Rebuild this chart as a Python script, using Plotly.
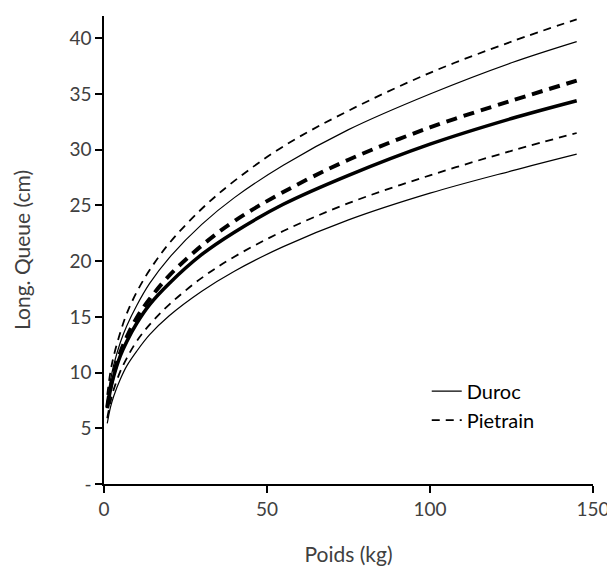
import plotly.graph_objects as go

poids = [1, 2, 3, 5, 7, 10, 14, 20, 30, 40, 55, 75, 100, 125, 145]

duroc_moy = [6.8, 8.5, 9.7, 11.5, 12.8, 14.4, 16.1, 18.0, 20.6, 22.6, 25.1, 27.7, 30.5, 32.8, 34.4]
duroc_sup = [7.35, 9.3, 10.7, 12.7, 14.2, 16.0, 18.0, 20.3, 23.3, 25.7, 28.6, 31.8, 35.0, 37.8, 39.7]
duroc_inf = [5.45, 6.9, 7.9, 9.4, 10.6, 11.9, 13.4, 15.1, 17.3, 19.1, 21.3, 23.7, 26.1, 28.1, 29.6]

pietrain_moy = [6.9, 8.7, 9.95, 11.8, 13.2, 14.9, 16.6, 18.7, 21.4, 23.6, 26.2, 29.1, 32.0, 34.4, 36.2]
pietrain_sup = [8.0, 10.1, 11.5, 13.6, 15.3, 17.2, 19.2, 21.6, 24.7, 27.2, 30.3, 33.5, 36.9, 39.7, 41.7]
pietrain_inf = [5.9, 7.4, 8.5, 10.1, 11.3, 12.8, 14.3, 16.1, 18.5, 20.4, 22.7, 25.2, 27.7, 29.9, 31.5]

y_ticks = [0, 5, 10, 15, 20, 25, 30, 35, 40]
y_ticktext = ["-", "5", "10", "15", "20", "25", "30", "35", "40"]
x_ticks = [0, 50, 100, 150]

FONT = "Lato, 'Open Sans', sans-serif"
thin_dash = "8px,6px"
thick_dash = "11px,7px"

fig = go.Figure()

def add(y, name, width, dash, show):
    fig.add_trace(go.Scatter(
        x=poids, y=y, mode="lines", name=name,
        line=dict(color="black", width=width, dash=dash, shape="spline", smoothing=1.0),
        showlegend=show, hoverinfo="skip",
    ))

add(duroc_sup, "Duroc", 1.2, "solid", True)
add(pietrain_sup, "Pietrain", 1.8, thin_dash, True)
add(duroc_moy, "Duroc moyenne", 3.5, "solid", False)
add(pietrain_moy, "Pietrain moyenne", 4, thick_dash, False)
add(duroc_inf, "Duroc inf", 1.2, "solid", False)
add(pietrain_inf, "Pietrain inf", 1.8, thin_dash, False)

axis_common = dict(
    showgrid=False, zeroline=False, showline=True, linecolor="black", linewidth=1.5,
    ticks="outside", ticklen=7, tickwidth=1.5, tickcolor="black", automargin=False,
    tickfont=dict(family=FONT, size=19, color="#404040"),
    title_font=dict(family=FONT, size=21, color="#404040"),
)

# the page body adds an 8px margin, so the figure is sized to fit within the window
fig.update_layout(
    width=607, height=559,
    margin=dict(l=96, r=22, t=8, b=83),
    paper_bgcolor="white", plot_bgcolor="white",
    xaxis=dict(range=[0, 150], tickvals=x_ticks, title=dict(text="Poids (kg)", standoff=29), **axis_common),
    yaxis=dict(range=[0, 42], tickvals=y_ticks, ticktext=y_ticktext,
               title=dict(text="Long. Queue (cm)", standoff=33), **axis_common),
    legend=dict(x=0.66, y=0.24, xanchor="left", yanchor="top",
                font=dict(family=FONT, size=20, color="black"),
                bgcolor="rgba(0,0,0,0)", tracegroupgap=0, itemwidth=30),
    showlegend=True,
)

fig.write_html("out.html")
